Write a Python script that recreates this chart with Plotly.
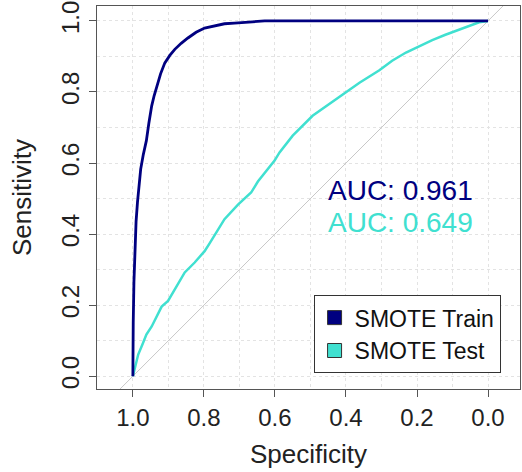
import plotly.graph_objects as go

# ---- data ----
train_spec = [1.0, 1.0, 0.999, 0.997, 0.994, 0.991, 0.987, 0.983, 0.978, 0.971, 0.962,
              0.955, 0.947, 0.940, 0.933, 0.922, 0.910, 0.896, 0.882, 0.864, 0.845, 0.822,
              0.798, 0.770, 0.742, 0.714, 0.685, 0.655, 0.629, 0.400, 0.200, 0.0]
train_sens = [0.0, 0.014, 0.15, 0.266, 0.378, 0.435, 0.490, 0.540, 0.583, 0.622, 0.663,
              0.712, 0.761, 0.790, 0.817, 0.851, 0.882, 0.903, 0.920, 0.937, 0.952, 0.968,
              0.980, 0.987, 0.992, 0.994, 0.996, 0.998, 1.0, 1.0, 1.0, 1.0]

test_spec = [1.0, 0.993, 0.985, 0.972, 0.962, 0.947, 0.932, 0.919, 0.901, 0.882, 0.868,
             0.854, 0.826, 0.798, 0.784, 0.770, 0.742, 0.704, 0.667, 0.648, 0.620, 0.601,
             0.587, 0.550, 0.494, 0.455, 0.419, 0.362, 0.306, 0.270, 0.231, 0.195, 0.157,
             0.120, 0.081, 0.050, 0.025, 0.0]
test_sens = [0.0, 0.030, 0.061, 0.092, 0.117, 0.140, 0.170, 0.196, 0.212, 0.243, 0.268,
             0.292, 0.320, 0.352, 0.374, 0.397, 0.442, 0.483, 0.517, 0.548, 0.582, 0.607,
             0.630, 0.677, 0.733, 0.760, 0.786, 0.826, 0.861, 0.888, 0.911, 0.929, 0.946,
             0.961, 0.976, 0.987, 0.996, 1.0]

diag_x = [1.3, -0.3]
diag_y = [-0.3, 1.3]

tick_vals = [1.0, 0.8, 0.6, 0.4, 0.2, 0.0]
tick_text = ["1.0", "0.8", "0.6", "0.4", "0.2", "0.0"]

series_names = ["SMOTE Train", "SMOTE Test"]
series_colors = ["#000080", "#40E0D0"]
auc_labels = ["AUC: 0.961", "AUC: 0.649"]
auc_pos_x = [0.246, 0.246]
auc_pos_y = [0.524, 0.434]

FONT = "Liberation Sans, Arial, sans-serif"

fig = go.Figure()

fig.add_trace(go.Scatter(x=diag_x, y=diag_y, mode="lines",
                         line=dict(color="#c8c8c8", width=1), showlegend=False,
                         hoverinfo="skip"))
fig.add_trace(go.Scatter(x=test_spec, y=test_sens, mode="lines",
                         line=dict(color=series_colors[1], width=2.5), showlegend=False))
fig.add_trace(go.Scatter(x=train_spec, y=train_sens, mode="lines",
                         line=dict(color=series_colors[0], width=2.8), showlegend=False))

for name, col in zip(series_names, series_colors):
    fig.add_trace(go.Scatter(x=[None], y=[None], mode="markers", name=name,
                             marker=dict(symbol="square", size=14, color=col,
                                         line=dict(color="#333333", width=1))))

for txt, col, ax, ay in zip(auc_labels, series_colors, auc_pos_x, auc_pos_y):
    fig.add_annotation(x=ax, y=ay, xref="x", yref="y", text=txt, showarrow=False,
                       font=dict(size=28, color=col, family=FONT),
                       xanchor="center", yanchor="middle")

grid = dict(gridcolor="#e3e3e3", griddash="dot", gridwidth=1)

fig.update_xaxes(range=[1.101, -0.09], tickmode="array", tickvals=tick_vals,
                 ticktext=tick_text, ticks="outside", ticklen=7, tickcolor="#555555",
                 showline=True, linecolor="#555555", linewidth=1, mirror=True,
                 showgrid=True, zeroline=False, **grid, ticklabeloverflow="allow",
                 minor=dict(dtick=0.1, tick0=0, showgrid=True, gridcolor="#e3e3e3",
                            griddash="dot", ticks=""),
                 tickfont=dict(size=24, color="#222222", family=FONT),
                 title=dict(text="Specificity", font=dict(size=26, color="#222222", family=FONT),
                            standoff=15))
fig.update_yaxes(range=[-0.036, 1.042], tickmode="array", tickvals=tick_vals,
                 ticktext=tick_text, ticks="outside", ticklen=7, tickcolor="#555555",
                 tickangle=-90, ticklabeloverflow="allow",
                 showline=True, linecolor="#555555", linewidth=1, mirror=True,
                 showgrid=True, zeroline=False, **grid,
                 minor=dict(dtick=0.1, tick0=0, showgrid=True, gridcolor="#e3e3e3",
                            griddash="dot", ticks=""),
                 tickfont=dict(size=24, color="#222222", family=FONT),
                 title=dict(text="Sensitivity", font=dict(size=26, color="#222222", family=FONT),
                            standoff=18))

fig.update_layout(
    width=522, height=472,
    margin=dict(l=97, r=1, t=3, b=83),
    paper_bgcolor="white", plot_bgcolor="white",
    font=dict(family=FONT),
    legend=dict(x=0.512, y=0.245, xanchor="left", yanchor="top",
                bordercolor="#333333", borderwidth=1, bgcolor="white",
                font=dict(size=23, color="#111111", family=FONT),
                tracegroupgap=0, itemwidth=30),
)

fig.write_html("out.html")
